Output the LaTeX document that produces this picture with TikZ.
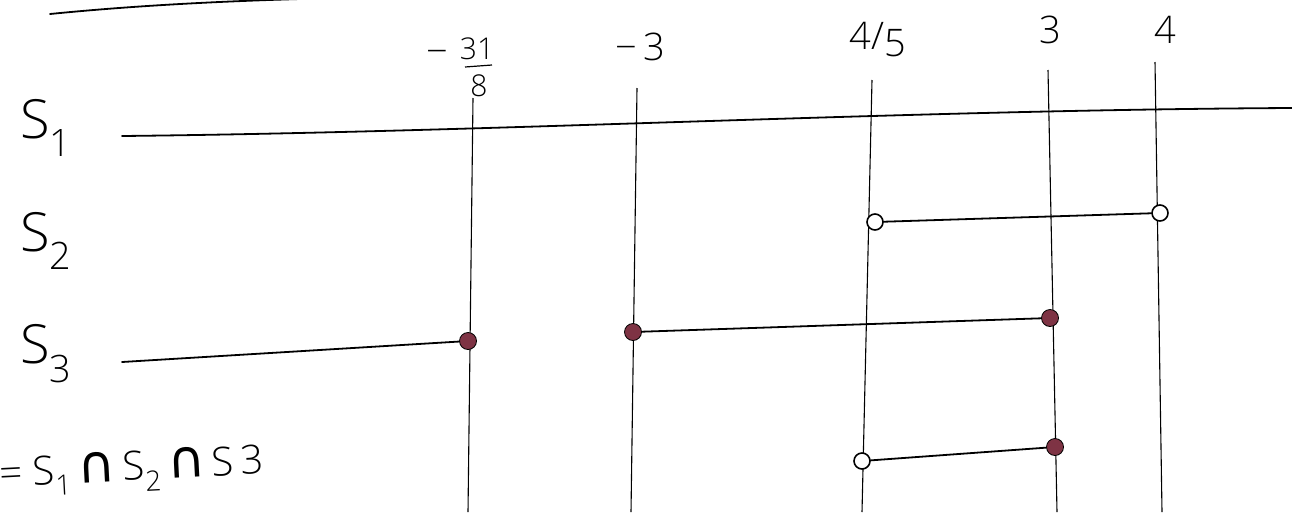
\documentclass[tikz,border=0pt]{standalone}
\usepackage{fontspec}
\setmainfont{Open Sans}[UprightFont=* Light]
\newfontfamily\symfont{DejaVu Sans}
\begin{document}
\begin{tikzpicture}[x=1pt,y=-1pt,
  hline/.style={line width=1.8pt,line cap=round},
  vline/.style={line width=1.1pt},
  lbl/.style={font=\fontsize{54}{58}\selectfont,inner sep=0pt},
  num/.style={font=\fontsize{38}{42}\selectfont,inner sep=0pt},
  frac/.style={font=\fontsize{30}{34}\selectfont,inner sep=0pt},
  opendot/.style={circle,draw,line width=1.6pt,fill=white,minimum size=16pt,inner sep=0pt},
  fulldot/.style={circle,draw=black,line width=0.8pt,fill=dotred,minimum size=17pt,inner sep=0pt}]
\definecolor{dotred}{HTML}{7E3344}
\useasboundingbox (0,0) rectangle (1292,512);
% top stroke
\coordinate (t0) at (50,14);
\coordinate (t1) at (340,-2);
\draw[hline] (t0) .. controls (150,4) and (250,0) .. (t1);
% vertical lines
\coordinate (a0) at (473,98);  \coordinate (a1) at (468,512);
\coordinate (b0) at (637,88);  \coordinate (b1) at (631,512);
\coordinate (c0) at (872,80);  \coordinate (c1) at (862,512);
\coordinate (d0) at (1048,70); \coordinate (d1) at (1057,512);
\coordinate (e0) at (1155,62); \coordinate (e1) at (1162,512);
\foreach \p in {a,b,c,d,e} \draw[vline] (\p0) -- (\p1);
% labels on top
\node[num] (m1) at (437,57) {−};
\node[frac] (f1) at (477,49) {31};
\node[frac] (f2) at (479,86) {8};
\draw[line width=1.2pt] (465,67) -- (492,65);
\node[num] (m3) at (640,47) {−\,3};
\node[num] (q45) at (878,40) {4/\raisebox{-0.35ex}{5}};
\node[num] (n3) at (1050,30) {3};
\node[num] (n4) at (1165,30) {4};
% row labels
\node[lbl] (s1) at (46,128) {S\textsubscript{1}};
\node[lbl] (s2) at (46,241) {S\textsubscript{2}};
\node[lbl] (s3) at (46,354) {S\textsubscript{3}};
% S1
\coordinate (s1a) at (122,136);
\coordinate (s1b) at (1292,108);
\draw[hline] (s1a) .. controls (500,132) and (900,110) .. (s1b);
% S2
\node[opendot] (o1) at (875,222) {};
\node[opendot] (o2) at (1160,213) {};
\draw[hline] (o1) -- (o2);
% S3
\coordinate (s3a) at (122,362);
\node[fulldot] (p1) at (468,341) {};
\node[fulldot] (p2) at (633,332) {};
\node[fulldot] (p3) at (1050,318) {};
\draw[hline] (s3a) -- (p1);
\draw[hline] (p2) -- (p3);
% intersection
\node[opendot] (o3) at (862,461) {};
\node[fulldot] (p4) at (1055,447) {};
\draw[hline] (o3) -- (p4);
\node[font=\fontsize{40}{44}\selectfont,inner sep=0pt,anchor=west,rotate=3] (res) at (0,478) {= S\textsubscript{1}\,{\symfont\fontsize{52}{56}\selectfont ∩}\,S\textsubscript{2}\,{\symfont\fontsize{52}{56}\selectfont ∩}\,S\,3};
\end{tikzpicture}
\end{document}
